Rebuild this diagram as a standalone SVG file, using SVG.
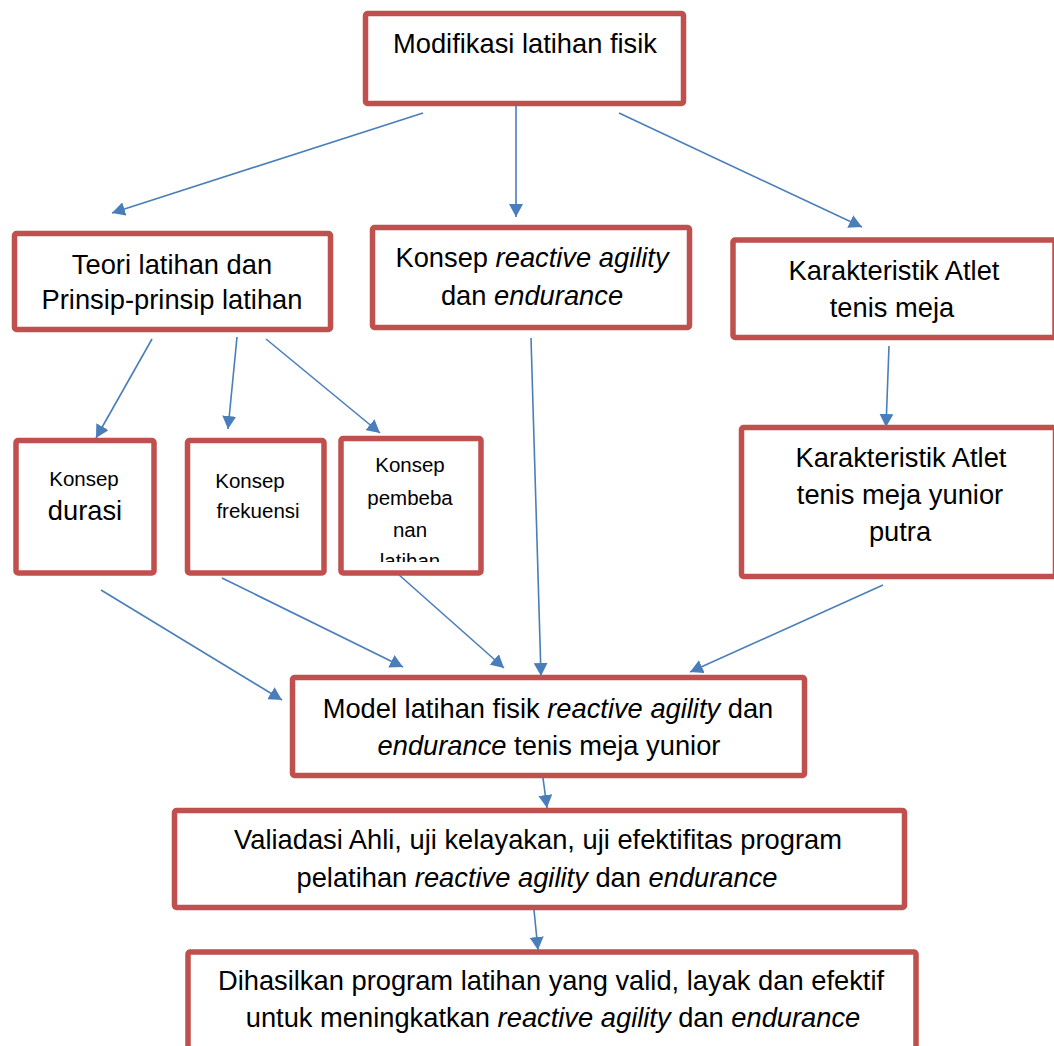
<svg xmlns="http://www.w3.org/2000/svg" width="1054" height="1046" viewBox="0 0 1054 1046">
<style>
.box{fill:#fff;stroke:#C0504D;stroke-width:5.5}
.t{font-family:"Liberation Sans",Arial,sans-serif;font-size:27.3px;fill:#000;text-anchor:middle}
.s{font-size:20.5px}
.i{font-style:italic}
.c{stroke:#4A7EBB;stroke-width:1.6;fill:none;marker-end:url(#ah)}
</style>
<defs>
<marker id="ah" markerUnits="userSpaceOnUse" markerWidth="14" markerHeight="14" refX="13" refY="7" orient="auto">
<path d="M0,0 L13,7 L0,14 Z" fill="#4A7EBB"/>
</marker>
<clipPath id="clipP"><rect x="343" y="441" width="136" height="121"/></clipPath>
</defs>
<rect width="1054" height="1046" fill="#fff"/>

<g id="connectors">
<line class="c" x1="423" y1="113" x2="112" y2="213"/>
<line class="c" x1="516" y1="101" x2="516" y2="217"/>
<line class="c" x1="619" y1="113" x2="862" y2="227"/>
<line class="c" x1="152" y1="339" x2="96" y2="438"/>
<line class="c" x1="237" y1="337" x2="228" y2="429"/>
<line class="c" x1="266" y1="339" x2="380" y2="433"/>
<line class="c" x1="531" y1="338" x2="541" y2="676"/>
<line class="c" x1="889" y1="346" x2="886" y2="427"/>
<line class="c" x1="101" y1="590" x2="282" y2="700"/>
<line class="c" x1="222" y1="578" x2="403" y2="667"/>
<line class="c" x1="389" y1="566" x2="504" y2="668"/>
<line class="c" x1="883" y1="585" x2="690" y2="672"/>
<line class="c" x1="543" y1="778" x2="547" y2="808"/>
<line class="c" x1="534" y1="910" x2="538" y2="950"/>
</g>

<g id="n1">
<rect class="box" x="365.5" y="13.5" width="318" height="90" rx="2"/>
<text class="t" x="525" y="53">Modifikasi latihan fisik</text>
</g>

<g id="n2">
<rect class="box" x="14.5" y="233.5" width="316" height="96" rx="2"/>
<text class="t" x="172" y="274">Teori latihan dan</text>
<text class="t" x="172" y="309">Prinsip-prinsip latihan</text>
</g>

<g id="n3">
<rect class="box" x="372.5" y="227.5" width="317" height="100" rx="2"/>
<text class="t" x="532" y="267">Konsep <tspan class="i">reactive agility</tspan></text>
<text class="t" x="532" y="305">dan <tspan class="i">endurance</tspan></text>
</g>

<g id="n4">
<rect class="box" x="733" y="240" width="322" height="97.5" rx="2"/>
<text class="t" x="894" y="280">Karakteristik Atlet</text>
<text class="t" x="892" y="317">tenis meja</text>
</g>

<g id="n5">
<rect class="box" x="16" y="440.5" width="138" height="132.5" rx="2"/>
<text class="t s" x="84" y="486">Konsep</text>
<text class="t" x="85" y="520">durasi</text>
</g>

<g id="n6">
<rect class="box" x="187.5" y="440.5" width="136.5" height="132.5" rx="2"/>
<text class="t s" x="250" y="488">Konsep</text>
<text class="t s" x="258" y="518">frekuensi</text>
</g>

<g id="n7">
<rect class="box" x="341" y="438.5" width="140" height="134.5" rx="2"/>
<g clip-path="url(#clipP)">
<text class="t s" x="410" y="472">Konsep</text>
<text class="t s" x="410" y="505">pembeba</text>
<text class="t s" x="410" y="537">nan</text>
<text class="t s" x="410" y="568">latihan</text>
</g>
</g>

<g id="n8">
<rect class="box" x="741.5" y="427.5" width="314" height="149" rx="2"/>
<text class="t" x="901" y="467">Karakteristik Atlet</text>
<text class="t" x="900" y="504">tenis meja yunior</text>
<text class="t" x="900" y="541">putra</text>
</g>

<g id="n9">
<rect class="box" x="292.5" y="677.5" width="512" height="98" rx="2"/>
<text class="t" x="548" y="718">Model latihan fisik <tspan class="i">reactive agility</tspan> dan</text>
<text class="t" x="549" y="755"><tspan class="i">endurance</tspan> tenis meja yunior</text>
</g>

<g id="n10">
<rect class="box" x="174.5" y="810.5" width="730" height="97" rx="2"/>
<text class="t" x="538" y="849">Valiadasi Ahli, uji kelayakan, uji efektifitas program</text>
<text class="t" x="537" y="887">pelatihan <tspan class="i">reactive agility</tspan> dan <tspan class="i">endurance</tspan></text>
</g>

<g id="n11">
<rect class="box" x="188" y="952" width="728" height="110" rx="2"/>
<text class="t" x="551" y="990">Dihasilkan program latihan yang valid, layak dan efektif</text>
<text class="t" x="553" y="1027">untuk meningkatkan <tspan class="i">reactive agility</tspan> dan <tspan class="i">endurance</tspan></text>
</g>
</svg>
